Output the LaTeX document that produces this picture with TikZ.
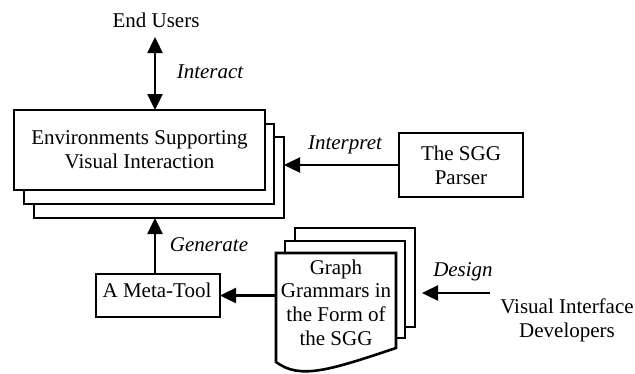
\documentclass[tikz,border=0pt]{standalone}
\usepackage{fontspec}
\setmainfont{Liberation Serif}
\usetikzlibrary{arrows.meta}
\begin{document}
\begin{tikzpicture}[x=1pt,y=-1pt,
  every node/.style={font=\fontsize{21}{24}\selectfont, inner sep=0pt, outer sep=0pt},
  boxed/.style={draw, fill=white, line width=2.6pt, rectangle},
  lbl/.style={font=\fontsize{21}{24}\selectfont\itshape},
  tip/.tip={Triangle[length=16pt,width=15pt]},
  conn/.style={line width=2.4pt, -tip},
  page/.style={draw, fill=white, line width=2.6pt, line join=miter}
]
\useasboundingbox (0,0) rectangle (635,373);

% stacked environment boxes
\node[boxed, minimum width=250pt, minimum height=81pt] (env3) at (159,177.5) {};
\node[boxed, minimum width=250pt, minimum height=80pt] (env2) at (149,164) {};
\node[boxed, minimum width=251pt, minimum height=80pt, align=center] (env) at (139.5,150)
  {Environments Supporting\\Visual Interaction};

% end users
\node (users) at (156,20) {End Users};
\coordinate (uA) at (155,37);
\draw[line width=2.4pt, tip-tip] (uA) -- (uA |- env.north);
\node[lbl] at (210,72) {Interact};

% parser
\node[boxed, minimum width=124pt, minimum height=64pt, align=center] (parser) at (461,165)
  {The SGG\\Parser};
\draw[conn] (parser.west) -- (parser.west -| env3.east);
\node[lbl] at (345,145) {Interpret};

% meta-tool
\node[boxed, minimum width=124pt, minimum height=43pt] (meta) at (158,295.5) {};
\node (metatxt) at (157,290) {A Meta-Tool};
\coordinate (genfoot) at (155,274);
\draw[conn] (genfoot) -- (genfoot |- env3.south);
\node[lbl] at (209,245) {Generate};

% stacked document pages
\draw[page] (295,228) rectangle (415,327);
\draw[page] (285,241) rectangle (405,338);
\draw[page] (276,253) -- (396,253) -- (396,348)
  .. controls (330,370) and (300,380) .. (276,362) -- cycle;
\node[minimum width=120pt, minimum height=108pt] (doc) at (336,307) {};
\node[align=center, font=\fontsize{21}{23.7}\selectfont] (doctxt) at (336,302.5)
  {Graph\\Grammars in\\the Form of\\the SGG};
\draw[conn] (doc.west |- meta.east) -- (meta.east);

% developers
\node[align=center] (devs) at (567,320) {Visual Interface\\Developers};
\coordinate (devtail) at (490,293);
\coordinate (devtip) at (422,293);
\draw[conn] (devtail) -- (devtip);
\node[lbl] at (463,272) {Design};
\end{tikzpicture}
\end{document}
